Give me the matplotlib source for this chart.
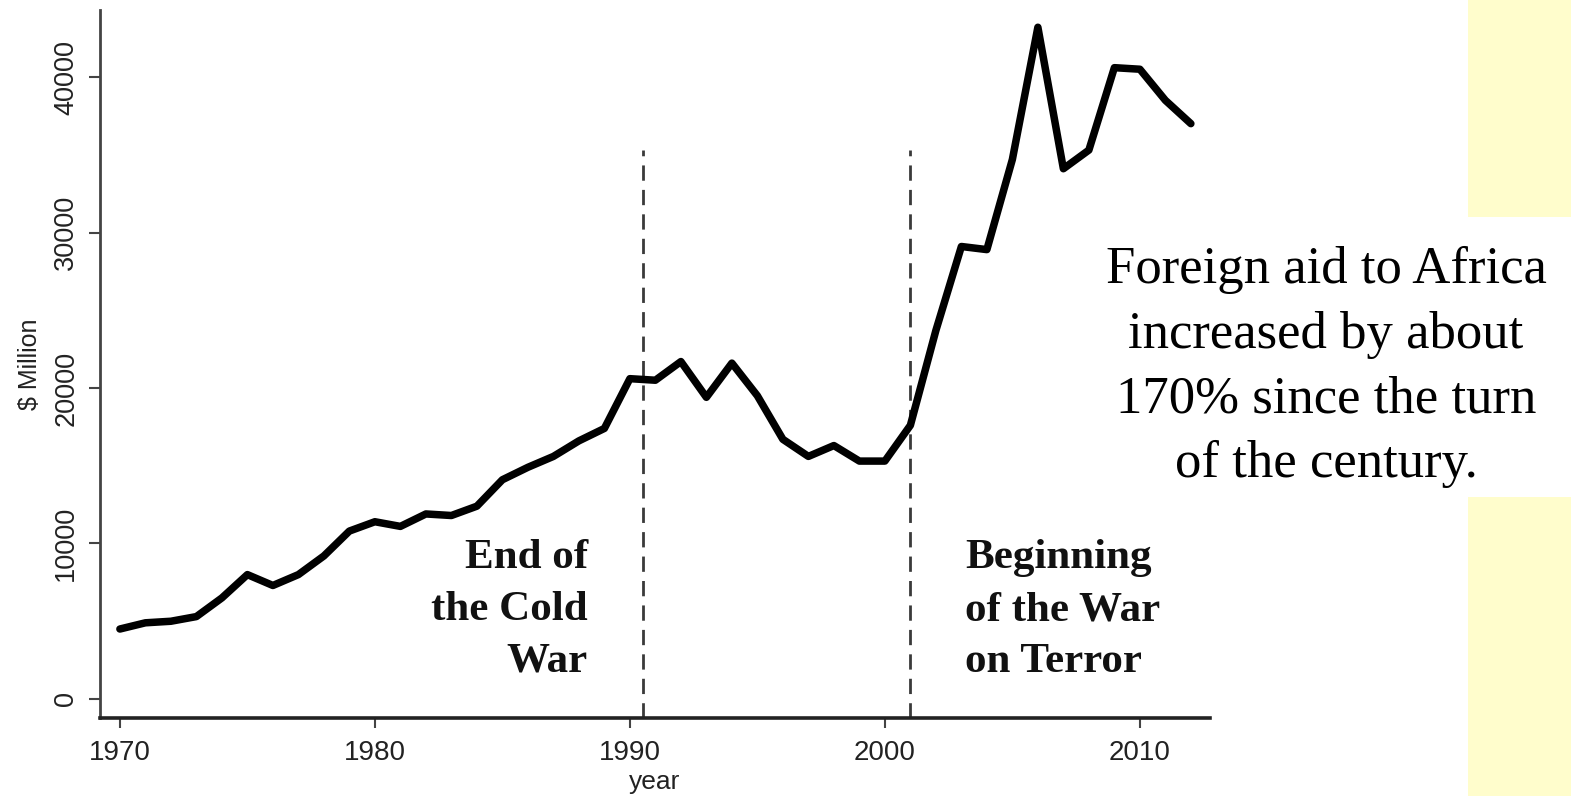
import matplotlib
matplotlib.use("Agg")
import matplotlib.pyplot as plt
from matplotlib.patches import Rectangle

# ---- data ----
years = list(range(1970, 2013))
aid_musd = [4500, 4900, 5000, 5300, 6500, 8000, 7300, 8000, 9200, 10800,
            11400, 11100, 11900, 11800, 12400, 14100, 14900, 15600, 16600, 17400,
            20600, 20500, 21700, 19400, 21600, 19500, 16700, 15600, 16300, 15300,
            15300, 17600, 23700, 29100, 28900, 34700, 43200, 34100, 35300, 40600,
            40500, 38500, 37000]
event_years = [1990.5, 2001]
event_labels = ["End of\nthe Cold\nWar", "Beginning\nof the War\non Terror"]
xticks = [1970, 1980, 1990, 2000, 2010]
yticks = [0, 10000, 20000, 30000, 40000]
side_text = "Foreign aid to Africa\nincreased by about\n170% since the turn\nof the century."

W, H = 1571, 796
fig = plt.figure(figsize=(W / 100, H / 100), dpi=100)
fig.patch.set_facecolor("white")

# yellow side blocks
yellow = "#FFFDCC"
fig.patches.append(Rectangle((1468 / W, 1 - 217 / H), 1 - 1468 / W, 217 / H,
                             transform=fig.transFigure, facecolor=yellow, edgecolor="none"))
fig.patches.append(Rectangle((1468 / W, 0), 1 - 1468 / W, 1 - 497 / H,
                             transform=fig.transFigure, facecolor=yellow, edgecolor="none"))

ax = fig.add_axes([100 / W, 1 - 718 / H, (1210 - 100) / W, (718 - 10) / H])
ax.set_facecolor("none")

ax.plot(years, aid_musd, color="black", lw=5.4, solid_joinstyle="round",
        solid_capstyle="round", zorder=3)

for ev in event_years:
    ax.plot([ev, ev], [-1222, 35300], color="#3a3a3a", lw=2.0,
            dashes=(5.5, 3.3), zorder=2)

ax.set_xlim(1969.22, 2012.75)
ax.set_ylim(-1222, 44309)

for s in ["top", "right"]:
    ax.spines[s].set_visible(False)
ax.spines["left"].set_color("#444444")
ax.spines["bottom"].set_color("#222222")
ax.spines["left"].set_linewidth(2.0)
ax.spines["bottom"].set_linewidth(2.6)

sans = ["Liberation Sans", "DejaVu Sans"]
ax.set_xticks(xticks)
ax.set_xticklabels([str(t) for t in xticks], fontsize=20, family=sans, color="#222222")
ax.set_yticks(yticks)
ax.set_yticklabels([str(t) for t in yticks], fontsize=19.5, family=sans, color="#222222",
                   rotation=90, va="center")
ax.tick_params(axis="x", direction="out", length=7, width=1.5, colors="#444444",
               labelcolor="#222222", pad=9)
ax.tick_params(axis="y", direction="out", length=8, width=1.5, colors="#444444",
               labelcolor="#222222", pad=7)
ax.set_xlabel("year", fontsize=19, family=sans, color="#222222", labelpad=3)
ax.set_ylabel("$ Million", fontsize=18, family=sans, color="#222222", labelpad=8)

serif = ["Liberation Serif", "DejaVu Serif"]
ax.text(1988.35, 5720, event_labels[0], ha="right", va="center", fontsize=31,
        fontweight="bold", family=serif, linespacing=1.48, color="#111111")
ax.text(2003.14, 5720, event_labels[1], ha="left", va="center", fontsize=31,
        fontweight="bold", family=serif, linespacing=1.48, color="#111111")

fig.text(1326 / W, 1 - 367 / H, side_text, ha="center", va="center", fontsize=38,
         family=serif, linespacing=1.45, color="black")

fig.savefig("out.png", dpi=100, facecolor="white")
